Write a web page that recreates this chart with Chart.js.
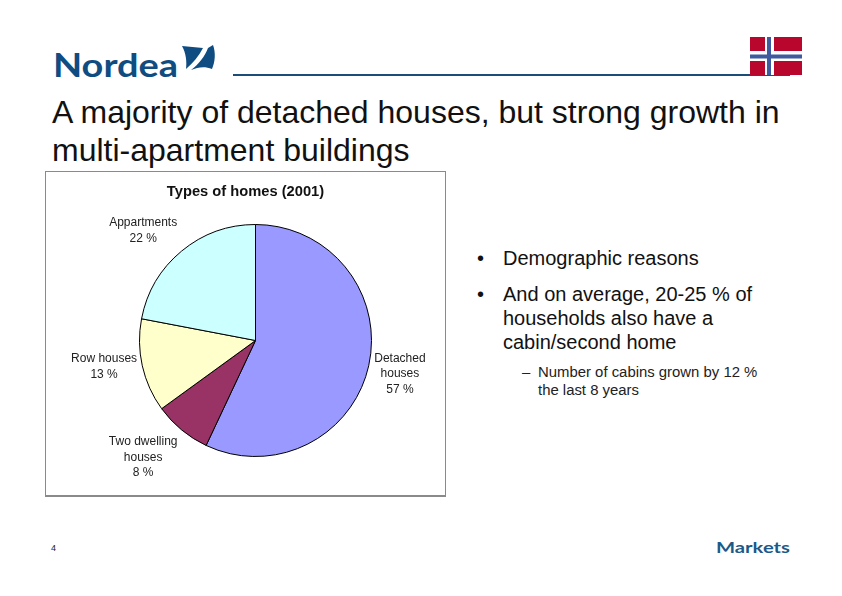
<!DOCTYPE html>
<html>
<head>
  <meta charset="utf-8">
  <script src="https://cdnjs.cloudflare.com/ajax/libs/Chart.js/4.4.1/chart.umd.min.js"></script>
  <style>
    html, body { margin: 0; padding: 0; background: #fff; }
    body { width: 842px; height: 596px; position: relative; overflow: hidden; font-family: "Liberation Sans", Arial, sans-serif; color: #111; }
    .abs { position: absolute; white-space: nowrap; }
    .title { left: 52px; top: 93px; font-size: 32px; line-height: 38px; }
    .chart-box { left: 45px; top: 171px; width: 399px; height: 323px; border: 1px solid #8a8a8a; border-bottom-width: 2px; background: #fff; }
    .bullet { font-size: 20px; line-height: 24px; }
    .dot { font-size: 20px; line-height: 24px; }
    .sub { font-size: 14.9px; line-height: 18px; color: #222; }
    svg { position: absolute; left: 0; top: 0; }
  </style>
</head>
<body>
  <svg width="842" height="596">
    <text x="53" y="77" font-family="Lato, 'Liberation Sans', sans-serif" font-weight="700" font-size="32" fill="#0f4c81" textLength="125" lengthAdjust="spacingAndGlyphs">Nordea</text>
    <path d="M182 46 L203 48 C199 56 193 63 186 69 C187 62 186 53 182 46 Z" fill="#0f4c81"/>
    <path d="M208 48 L213 45 C216 53 215 62 212 69 C205 66 198 67 191 70 C199 64 205 56 208 48 Z" fill="#0f4c81"/>
    <rect x="233" y="74" width="557" height="2" fill="#1a4e78"/>
    <rect x="750" y="37" width="52" height="38" fill="#b8062c"/>
    <rect x="750" y="51" width="52" height="10" fill="#fff"/>
    <rect x="765" y="37" width="9" height="38" fill="#fff"/>
    <rect x="750" y="54.5" width="52" height="4" fill="#3f5a9e"/>
    <rect x="767" y="37" width="4" height="38" fill="#3f5a9e"/>
    <text x="716" y="553" font-family="Lato, 'Liberation Sans', sans-serif" font-weight="700" font-size="15" fill="#1a5a8a" textLength="74" lengthAdjust="spacingAndGlyphs">Markets</text>
    <text x="51" y="551" font-family="Liberation Sans, Arial, sans-serif" font-size="9" fill="#222">4</text>
  </svg>

  <div class="abs title">A majority of detached houses, but strong growth in<br>multi-apartment buildings</div>

  <div class="abs chart-box"><canvas id="pie" width="399" height="323"></canvas></div>

  <div class="abs dot" style="left:477px;top:246px">•</div>
  <div class="abs bullet" style="left:503px;top:246px">Demographic reasons</div>
  <div class="abs dot" style="left:477px;top:282px">•</div>
  <div class="abs bullet" style="left:503px;top:282px">And on average, 20-25 % of<br>households also have a<br>cabin/second home</div>
  <div class="abs sub" style="left:522px;top:363px">–</div>
  <div class="abs sub" style="left:538px;top:363px">Number of cabins grown by 12 %<br>the last 8 years</div>

  <script>
    const chartTitle = 'Types of homes (2001)';
    const categories = ['Detached houses', 'Two dwelling houses', 'Row houses', 'Appartments'];
    const shares = [57, 8, 13, 22];
    const sliceColors = ['#9999ff', '#993366', '#ffffcc', '#ccffff'];
    const labelLines = [['Detached', 'houses'], ['Two dwelling', 'houses'], ['Row houses'], ['Appartments']];

    // nudges from the slice's own mid-angle point, same order as categories
    const labelNudge = [[0, 1], [-18, 3], [-7, -6], [-18, 4]];

    const pieLabels = {
      id: 'pieLabels',
      afterDatasetsDraw(chart) {
        const ctx = chart.ctx;
        const arcs = chart.getDatasetMeta(0).data;
        ctx.save();
        ctx.textAlign = 'center';
        ctx.textBaseline = 'middle';

        // title sits centred on the whole box, not over the pie
        ctx.font = 'bold 14.7px "Liberation Sans", Arial, sans-serif';
        ctx.fillStyle = '#111';
        ctx.fillText(chartTitle, chart.width / 2, 20);

        ctx.font = '12px "Liberation Sans", Arial, sans-serif';
        ctx.fillStyle = '#222';
        arcs.forEach((arc, i) => {
          const mid = (arc.startAngle + arc.endAngle) / 2;
          const r = arc.outerRadius + 32;
          const lines = labelLines[i].concat(shares[i] + ' %');
          const x = arc.x + Math.cos(mid) * r + labelNudge[i][0];
          const y = arc.y + Math.sin(mid) * r + labelNudge[i][1];
          lines.forEach((line, n) => {
            ctx.fillText(line, x, y + (n - (lines.length - 1) / 2) * 15.5);
          });
        });
        ctx.restore();
      }
    };

    new Chart(document.getElementById('pie'), {
      type: 'pie',
      data: {
        labels: categories,
        datasets: [{
          data: shares,
          backgroundColor: sliceColors,
          borderColor: '#000',
          borderWidth: 1
        }]
      },
      options: {
        responsive: false,
        animation: false,
        layout: { padding: { left: 20, right: 0, top: 52, bottom: 38 } },
        plugins: {
          legend: { display: false },
          tooltip: { enabled: false }
        }
      },
      plugins: [pieLabels]
    });
  </script>
</body>
</html>
